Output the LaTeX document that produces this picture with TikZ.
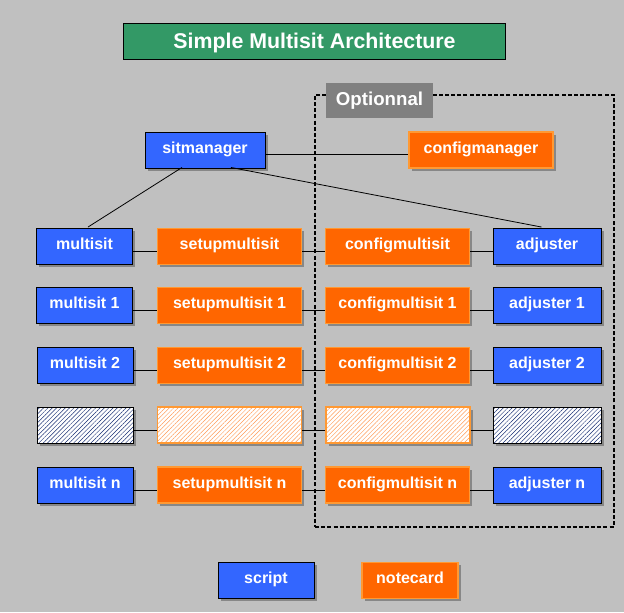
\documentclass[tikz,border=0pt]{standalone}
\usepackage{fontspec}
\setmainfont{Liberation Sans}
\usetikzlibrary{shadows,patterns.meta,calc}

\definecolor{bggray}{HTML}{C0C0C0}
\definecolor{titlegreen}{HTML}{339966}
\definecolor{scriptblue}{HTML}{3366FF}
\definecolor{cardorange}{HTML}{FF6600}
\definecolor{cardedge}{HTML}{FF9933}
\definecolor{optgray}{HTML}{808080}
\definecolor{shadowgray}{HTML}{878787}

\tikzset{
    box/.style={minimum height=27pt, inner sep=0pt, text=white,
        text height=9pt, text depth=4.2pt,
        font=\bfseries\fontsize{12}{14}\selectfont,
        drop shadow={shadow xshift=2.2pt, shadow yshift=-2.2pt, fill=shadowgray, opacity=1}},
    script/.style={box, fill=scriptblue, draw=black, line width=0.7pt},
    card/.style={box, fill=cardorange, draw=cardedge, line width=0.9pt},
    scripthatch/.style={script, preaction={fill=white},
        pattern={Lines[angle=45, distance=2.3pt, line width=0.35pt]}, pattern color=scriptblue!45!black},
    cardhatch/.style={card, preaction={fill=white},
        pattern={Lines[angle=45, distance=2.3pt, line width=0.35pt]}, pattern color=cardorange!65!white},
    link/.style={draw=black, line width=0.6pt}
}

\begin{document}
\begin{tikzpicture}[x=0.75pt, y=-0.75pt]
    \fill[bggray] (0,0) rectangle (624,612);
    \useasboundingbox (0,0) rectangle (624,612);

    % title
    \node (title) [fill=titlegreen, draw=black, line width=0.7pt, text=white,
        minimum width=287pt, minimum height=27pt, inner sep=0pt,
        text height=12pt, text depth=1pt,
        font=\bfseries\fontsize{16}{18}\selectfont] at (314.5,41) {Simple Multisit Architecture};

    % optional zone
    \node (optzone) [draw=black, line width=1.1pt, dash pattern=on 3pt off 1.6pt,
        minimum width=224pt, minimum height=324pt] at (464.5,311) {};
    \node (optlabel) [fill=optgray, text=white, minimum width=80pt, minimum height=26pt, inner sep=0pt,
        font=\bfseries\fontsize{14}{16}\selectfont] at (379.5,100.5) {Optionnal};

    % managers
    \node (sitmgr) [script, minimum width=90pt] at (205,150) {sitmanager};
    \node (cfgmgr) [card, minimum width=108pt] at (481,150) {configmanager};

    % rows
    \node (ms0) [script, minimum width=72pt] at (84.5,246.5) {multisit};
    \node (su0) [card, minimum width=108pt] at (229.5,246.5) {setupmultisit};
    \node (cm0) [card, minimum width=108pt] at (397.5,246.5) {configmultisit};
    \node (ad0) [script, minimum width=81pt] at (547,246.5) {adjuster};

    \node (ms1) [script, minimum width=72pt] at (84.5,305.5) {multisit 1};
    \node (su1) [card, minimum width=108pt] at (229.5,305.5) {setupmultisit 1};
    \node (cm1) [card, minimum width=108pt] at (397.5,305.5) {configmultisit 1};
    \node (ad1) [script, minimum width=81pt] at (547,305.5) {adjuster 1};

    \node (ms2) [script, minimum width=72pt] at (85,365.5) {multisit 2};
    \node (su2) [card, minimum width=108pt] at (229.5,365.5) {setupmultisit 2};
    \node (cm2) [card, minimum width=108pt] at (397.5,365.5) {configmultisit 2};
    \node (ad2) [script, minimum width=81pt] at (547,365.5) {adjuster 2};

    \node (ms3) [scripthatch, minimum width=72pt] at (85,425) {};
    \node (su3) [cardhatch, minimum width=108pt] at (229.5,425) {};
    \node (cm3) [cardhatch, minimum width=108pt] at (398,425) {};
    \node (ad3) [scripthatch, minimum width=81pt] at (547,425) {};

    \node (ms4) [script, minimum width=72pt] at (85,485) {multisit n};
    \node (su4) [card, minimum width=108pt] at (229.5,485) {setupmultisit n};
    \node (cm4) [card, minimum width=108pt] at (397.5,485) {configmultisit n};
    \node (ad4) [script, minimum width=81pt] at (547,485) {adjuster n};

    % legend
    \node (lgscript) [script, minimum width=72pt] at (266,580.5) {script};
    \node (lgcard) [card, minimum width=72pt] at (410,580.5) {notecard};

    % connectors
    \draw[link] ([yshift=-3pt]sitmgr.east) -- ([yshift=-3pt]sitmgr.east -| cfgmgr.west);
    \draw[link] ($(sitmgr.south)+(-23,-1)$) -- ($(ms0.north)+(3.5,-1)$);
    \draw[link] ($(sitmgr.south)+(26,-1)$) -- ($(ad0.north)+(-5.5,-1)$);
    \foreach \r in {0,...,4} {
        \draw[link] ([yshift=-4pt]ms\r.east) -- ([yshift=-4pt]su\r.west);
        \draw[link] ([yshift=-4pt]su\r.east) -- ([yshift=-4pt]cm\r.west);
        \draw[link] ([yshift=-4pt]cm\r.east) -- ([yshift=-4pt]ad\r.west);
    }
\end{tikzpicture}
\end{document}
